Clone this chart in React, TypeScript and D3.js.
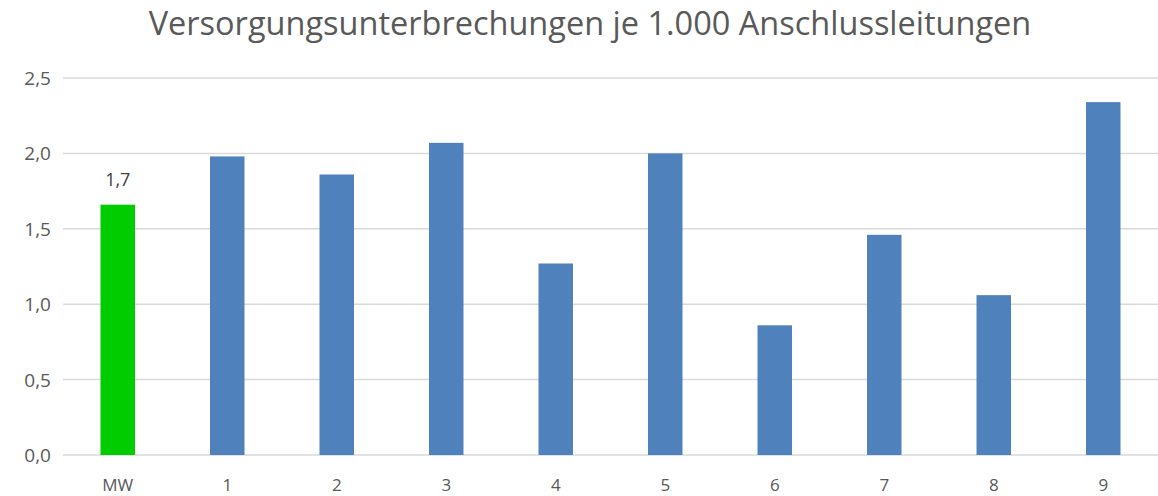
import * as d3 from 'd3';

const TITLE = 'Versorgungsunterbrechungen je 1.000 Anschlussleitungen';
const categories = ['MW', '1', '2', '3', '4', '5', '6', '7', '8', '9'];
const values = [1.66, 1.98, 1.86, 2.07, 1.27, 2.0, 0.86, 1.46, 1.06, 2.34];
const yTicks = [0, 0.5, 1.0, 1.5, 2.0, 2.5];

const WIDTH = 1158;
const HEIGHT = 496;
const MARGIN = { top: 78, right: 0, bottom: 41, left: 63 };
const FONT = '"Open Sans", "Noto Sans", sans-serif';
const TEXT_COLOR = '#595959';

const fmt = (v: number, digits: number) => v.toFixed(digits).replace('.', ',');

export default function App() {
    const boundsWidth = WIDTH - MARGIN.left - MARGIN.right;
    const boundsHeight = HEIGHT - MARGIN.top - MARGIN.bottom;

    const xScale = d3
        .scaleBand()
        .domain(categories)
        .range([0, boundsWidth])
        .paddingInner(0.685)
        .paddingOuter(0.3425);

    const yScale = d3.scaleLinear().domain([0, 2.5]).range([boundsHeight, 0]);

    const grid = yTicks.map((t, i) => (
        <g key={i}>
            <line
                x1={0}
                x2={boundsWidth}
                y1={yScale(t)}
                y2={yScale(t)}
                stroke="#d9d9d9"
                strokeWidth={1.5}
            />
            <text
                x={-12}
                y={yScale(t)}
                textAnchor="end"
                dominantBaseline="central"
                fontSize={19}
                fill={TEXT_COLOR}
            >
                {fmt(t, 1)}
            </text>
        </g>
    ));

    const bars = values.map((v, i) => {
        const cat = categories[i];
        const x = xScale(cat) ?? 0;
        const isMean = cat === 'MW';
        return (
            <g key={cat}>
                <rect
                    x={x}
                    y={yScale(v)}
                    width={xScale.bandwidth()}
                    height={boundsHeight - yScale(v)}
                    fill={isMean ? '#00cc00' : '#4f81bd'}
                />
                {isMean && (
                    <text
                        x={x + xScale.bandwidth() / 2}
                        y={yScale(v) - 26}
                        textAnchor="middle"
                        dominantBaseline="central"
                        fontSize={18}
                        fill="#404040"
                    >
                        {fmt(v, 1)}
                    </text>
                )}
                <text
                    x={x + xScale.bandwidth() / 2}
                    y={boundsHeight + 29}
                    textAnchor="middle"
                    dominantBaseline="central"
                    fontSize={17}
                    fill={TEXT_COLOR}
                >
                    {cat}
                </text>
            </g>
        );
    });

    return (
        <svg
            width={WIDTH}
            height={HEIGHT}
            style={{ position: 'absolute', left: 0, top: 0, fontFamily: FONT }}
        >
            <rect width={WIDTH} height={HEIGHT} fill="#ffffff" />
            <text
                x={590}
                y={22}
                textAnchor="middle"
                dominantBaseline="central"
                fontSize={32.5}
                fill={TEXT_COLOR}
            >
                {TITLE}
            </text>
            <g transform={`translate(${MARGIN.left},${MARGIN.top})`}>
                {grid}
                {bars}
            </g>
        </svg>
    );
}
